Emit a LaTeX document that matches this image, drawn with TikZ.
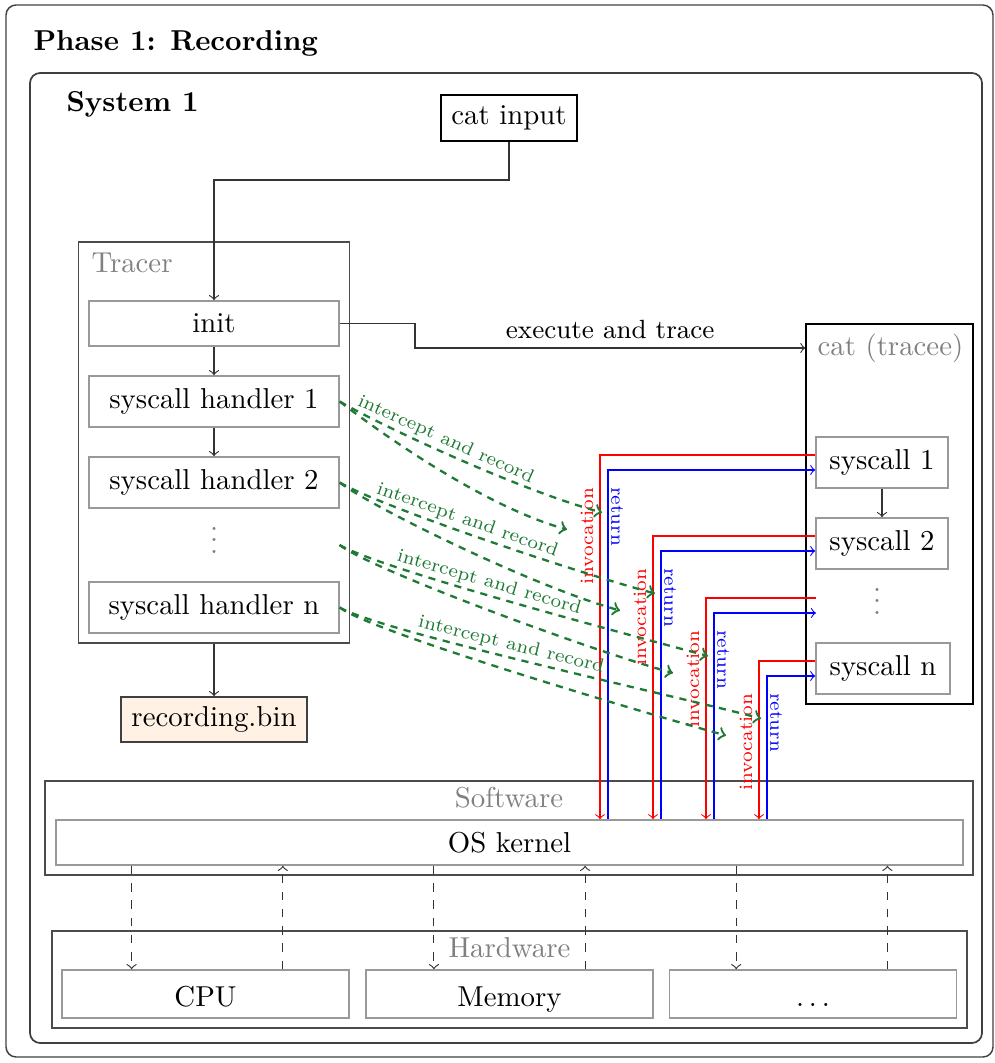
\documentclass[tikz,border=0pt]{standalone}
\usetikzlibrary{calc}
\definecolor{grn}{RGB}{30,122,52}
\definecolor{recfill}{RGB}{255,241,228}
\newcommand\pxu{0.3472pt}
\begin{document}
\begin{tikzpicture}[x=0.3472pt,y=-0.3472pt,
  wh/.style 2 args={minimum width=#1*\pxu, minimum height=#2*\pxu},
  gbox/.style={draw=black!40, line width=0.5pt, fill=white, inner sep=0pt},
  kbox/.style={draw=black, line width=0.4pt, inner sep=0pt},
  framebox/.style={draw=black!70, line width=0.6pt, inner sep=0pt},
  glab/.style={text=black!50, inner sep=0pt},
  hwtext/.style={text height=8.6pt, text depth=0pt},
  conn/.style={->, draw=black!80, line width=0.4pt},
  hwarrow/.style={->, dashed, draw=black!80, line width=0.4pt},
  invoc/.style={->, draw=red, line width=0.38pt},
  ret/.style={->, draw=blue, line width=0.38pt},
  recline/.style={->, draw=grn, line width=0.8pt, dash pattern=on 2.5pt off 2.2pt},
  tinylab/.style={font=\fontsize{6.55}{7}\selectfont, inner sep=0pt}]

\useasboundingbox (0,0) rectangle (994,1063);

% outer frames
\node[draw=black!75, line width=0.5pt, rounded corners=3.5pt, wh={987}{1052}] (phase) at (499.5,531) {};
\node[anchor=base west, font=\bfseries, inner sep=0pt] (phasetitle) at (33,51) {Phase 1: Recording};
\node[draw=black!75, line width=0.6pt, rounded corners=3.5pt, wh={952}{970}] (sys) at (506,558) {};
\node[anchor=base west, font=\bfseries, inner sep=0pt] (systitle) at (66,112) {System 1};

\node[kbox, wh={136}{46}] (catin) at (509,118) {cat input};

% tracer
\node[framebox, wh={271}{401}] (tracer) at (214,442.5) {};
\node[glab, anchor=base west] (tracertitle) at (91,273) {Tracer};
\node[gbox, wh={250}{45}] (init) at (214,323.5) {init};
\node[gbox, wh={250}{51}] (h1) at (214,401.5) {syscall handler 1};
\node[gbox, wh={250}{51}] (h2) at (214,482.5) {syscall handler 2};
\node[glab, minimum width=250*\pxu] (hdots) at (214,531.4) {\vdots};
\coordinate (hsrc) at ($(hdots.east)+(0,13.6)$);
\node[gbox, wh={250}{51}] (hn) at (214,607.5) {syscall handler n};
\node[draw=black!75, fill=recfill, line width=0.5pt, inner sep=0pt, wh={186}{45}] (rec) at (214,719.5) {recording.bin};

% tracee
\node[kbox, wh={167}{380}] (tracee) at (889.5,514) {};
\node[glab, anchor=base west] (traceetitle) at (817,356) {cat (tracee)};
\node[gbox, wh={132}{51}] (s1) at (882,462.5) {syscall 1};
\node[gbox, wh={132}{51}] (s2) at (882,543.5) {syscall 2};
\node[glab] (sdots) at (877,592.4) {\vdots};
\coordinate (s3) at (816,605.5);
\node[gbox, wh={134}{51}] (sn) at (883,668.5) {syscall n};

% software and hardware layers
\node[framebox, wh={928}{94}] (sw) at (509,828) {};
\node[glab, anchor=base] (swtitle) at (509,807) {Software};
\node[gbox, wh={907}{45}] (kernel) at (509.5,842.5) {OS kernel};
\node[framebox, wh={915}{97}] (hw) at (509.5,979.5) {};
\node[glab, anchor=base] (hwtitle) at (509.5,957) {Hardware};
\node[gbox, hwtext, wh={287}{48}] (cpu) at (205.5,994) {CPU};
\node[gbox, hwtext, wh={287}{48}] (mem) at (509.5,994) {Memory};
\node[gbox, hwtext, wh={287}{48}] (more) at (813,994) {$\ldots$};

% control flow
\coordinate (bend) at (0,180);
\draw[conn] (catin.south) -- (catin.south |- bend) -| (init.north);
\draw[conn] (init.south) -- (h1.north);
\draw[conn] (h1.south) -- (h2.north);
\draw[conn] (tracer.south) -- (rec.north);
\coordinate (ex) at (415,348);
\draw[conn] (init.east) -| (ex) -- (ex -| tracee.west)
  node[midway, above, font=\fontsize{9.15}{11}\selectfont, inner sep=3pt] {execute and trace};
\draw[conn] (s1.south) -- (s2.north);

% kernel <-> hardware
\foreach \i/\xx in {0/131.6,1/282.8,2/433.9,3/585.1,4/736.2,5/887.4}
  \coordinate (col\i) at (\xx,0);
\foreach \i in {0,2,4}
  \draw[hwarrow] (col\i |- kernel.south) -- (col\i |- cpu.north);
\foreach \i in {1,3,5}
  \draw[hwarrow] (col\i |- cpu.north) -- (col\i |- kernel.south);

% system calls: invocation, return, interception
\foreach \k/\tgt/\src/\rx in {1/s1.west/h1.east/600, 2/s2.west/h2.east/653, 3/s3/hsrc/706, 4/sn.west/hn.east/759}{
  \coordinate (r\k) at (\rx,0);
  \coordinate (b\k) at (\rx+8,0);
  \draw[invoc] ($(\tgt)+(0,-7.5)$) -| (r\k |- kernel.north);
  \draw[ret] (b\k |- kernel.north) |- ($(\tgt)+(0,7.5)$);
  \node[tinylab, text=red, rotate=90, anchor=east] (inv\k) at ($(r\k |- \tgt)+(-13,24.5)$) {invocation};
  \node[tinylab, text=blue, rotate=-90, anchor=west] (ret\k) at ($(b\k |- \tgt)+(9,24.5)$) {return};
  \coordinate (ea\k) at ($(r\k |- \src)+(2,111)$);
  \coordinate (eb\k) at ($(r\k |- \src)+(-33,128)$);
  \draw[recline] (\src) .. controls ($(\src)+(41,24)$) and ($(ea\k)+(-82,-22)$) .. (ea\k)
    node[pos=0.45, sloped, above, tinylab, text=grn, inner sep=1pt] {intercept and record};
  \draw[recline] (\src) .. controls ($(\src)+(31,24)$) and ($(eb\k)+(-87,-24)$) .. (eb\k);
}
\end{tikzpicture}
\end{document}
